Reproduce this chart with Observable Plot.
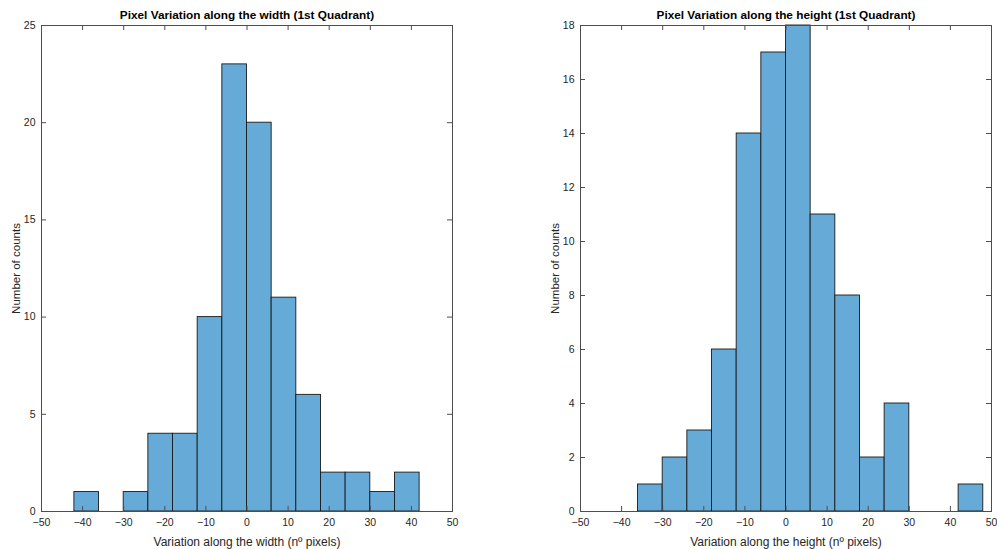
<!DOCTYPE html>
<html>
<head>
<meta charset="utf-8">
<script src="https://cdn.jsdelivr.net/npm/d3@7"></script>
<script src="https://cdn.jsdelivr.net/npm/@observablehq/plot@0.6"></script>
<style>
  html, body { margin: 0; padding: 0; background: #fff; }
  #wrap { position: relative; width: 997px; height: 549px; overflow: hidden; }
  #wrap > svg { position: absolute; top: 0; }
</style>
</head>
<body>
<div id="wrap"></div>
<script>
// Left: width variation histogram
const widthEdges  = [-42, -36, -30, -24, -18, -12, -6, 0, 6, 12, 18, 24, 30, 36, 42];
const widthCounts = [1, 0, 1, 4, 4, 10, 23, 20, 11, 6, 2, 2, 1, 2];
// Right: height variation histogram
const heightEdges  = [-36, -30, -24, -18, -12, -6, 0, 6, 12, 18, 24, 30, 36, 42, 48];
const heightCounts = [1, 2, 3, 6, 14, 17, 18, 11, 8, 2, 4, 0, 0, 1];

const xTicks = [-50, -40, -30, -20, -10, 0, 10, 20, 30, 40, 50];
const yTicksLeft  = [0, 5, 10, 15, 20, 25];
const yTicksRight = [0, 2, 4, 6, 8, 10, 12, 14, 16, 18];

const titles = ["Pixel Variation along the width (1st Quadrant)", "Pixel Variation along the height (1st Quadrant)"];
const xLabels = ["Variation along the width (nº pixels)", "Variation along the height (nº pixels)"];
const yLabel = "Number of counts";

const axisColor = "#4d4d4d";
const textColor = "#262626";
const fillColor = "#66aad7";

function makeHist(edges, counts, yMax, yTicks, title, xLabel, opts) {
  const bins = counts.map((c, i) => ({x1: edges[i], x2: edges[i + 1], y: c})).filter(d => d.y > 0);
  const W = opts.width, H = 549;
  const mt = 25, mb = 38, ml = opts.ml, mr = W - opts.ml - 411;
  const ph = H - mt - mb, pw = W - ml - mr;
  const tick = 5;
  const svg = Plot.plot({
    width: W, height: H,
    marginTop: mt, marginBottom: mb, marginLeft: ml, marginRight: mr,
    style: {fontFamily: "Liberation Sans, Arial, sans-serif", fontSize: "10px", color: textColor, background: "transparent"},
    x: {domain: [-50, 50]},
    y: {domain: [0, yMax]},
    marks: [
      Plot.rectY(bins, {x1: "x1", x2: "x2", y: "y", fill: fillColor, stroke: "#1a1a1a", strokeWidth: 0.9}),
      Plot.frame({stroke: axisColor, strokeWidth: 1}),
      Plot.tickX(xTicks, {x: d => d, insetTop: ph - tick, stroke: axisColor}),
      Plot.tickX(xTicks, {x: d => d, insetBottom: ph - tick, stroke: axisColor}),
      Plot.tickY(yTicks, {y: d => d, insetRight: pw - tick, stroke: axisColor}),
      Plot.tickY(yTicks, {y: d => d, insetLeft: pw - tick, stroke: axisColor}),
      Plot.axisX(xTicks, {tickSize: 0, tickPadding: 7, label: null, fill: textColor, fontSize: 10.5}),
      Plot.axisY(yTicks, {tickSize: 0, tickPadding: 6, label: null, fill: textColor, fontSize: 10.5}),
      Plot.text([xLabel], {frameAnchor: "bottom", dy: 31, fill: textColor, fontSize: 12, lineAnchor: "middle"}),
      Plot.text([title], {frameAnchor: "top", dy: -10, fill: "#000", fontSize: 11.8, fontWeight: "bold", lineAnchor: "middle"}),
      Plot.text([yLabel], {frameAnchor: "left", dx: -(ml - opts.ylabX), rotate: -90, fill: textColor, fontSize: 11.5, textAnchor: "middle", lineAnchor: "middle"})
    ]
  });
  svg.style.left = opts.left + "px";
  return svg;
}

const wrap = document.getElementById("wrap");
wrap.appendChild(makeHist(widthEdges, widthCounts, 25, yTicksLeft, titles[0], xLabels[0], {left: 0, width: 498, ml: 41, ylabX: 16}));
wrap.appendChild(makeHist(heightEdges, heightCounts, 18, yTicksRight, titles[1], xLabels[1], {left: 498, width: 499, ml: 82, ylabX: 57}));
</script>
</body>
</html>
